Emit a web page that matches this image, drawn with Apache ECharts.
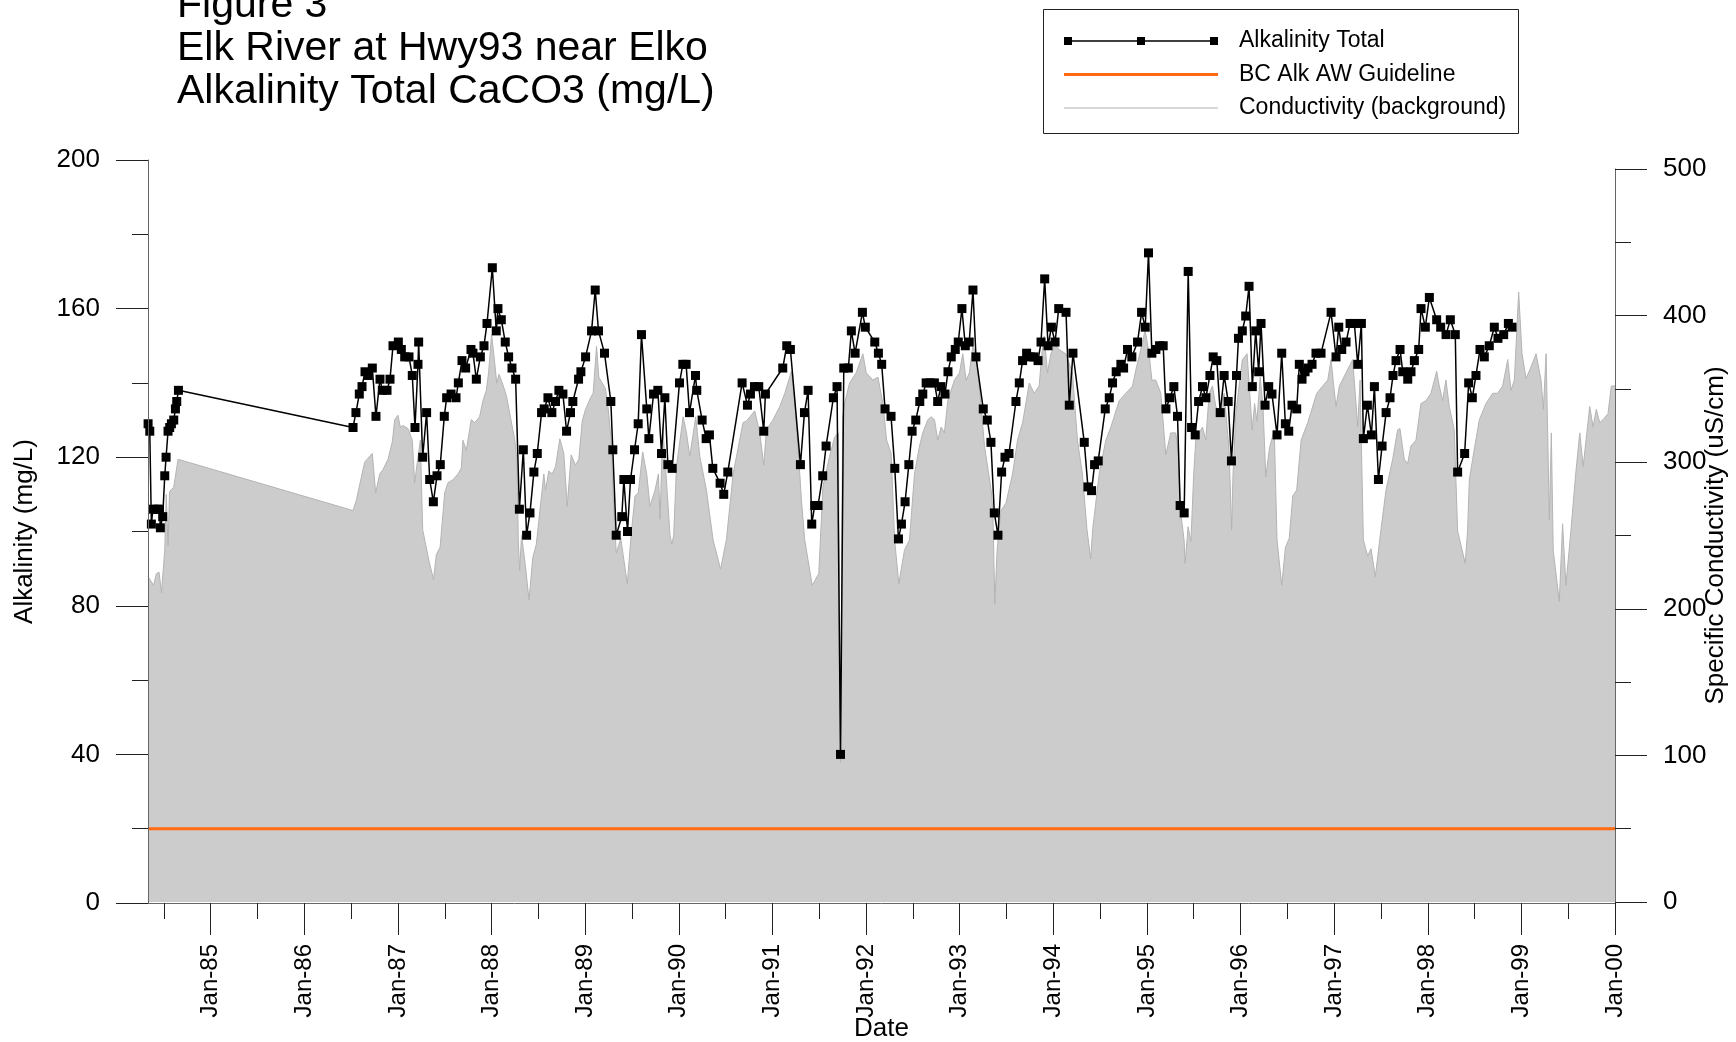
<!DOCTYPE html>
<html lang="en">
<head>
<meta charset="UTF-8">
<title>Figure 3 - Elk River at Hwy93 near Elko</title>
<script src="https://cdn.jsdelivr.net/npm/echarts@6/dist/echarts.min.js"></script>
<style>html,body{margin:0;padding:0;background:#fff;}</style>
</head>
<body>
<div id="main" style="width:1736px;height:1042px;"></div>
<script>
// alkalinity samples (decimal year, mg/L)
var alkYears = [
  1984.331,1984.349,1984.366,1984.383,1984.426,1984.452,1984.462,1984.487,1984.509,1984.523,
  1984.544,1984.562,1984.580,1984.605,1984.623,1984.637,1984.655,1986.520,1986.551,1986.587,
  1986.616,1986.648,1986.683,1986.726,1986.765,1986.808,1986.833,1986.883,1986.915,1986.947,
  1987.004,1987.036,1987.072,1987.118,1987.153,1987.182,1987.214,1987.221,1987.264,1987.306,
  1987.339,1987.378,1987.417,1987.452,1987.495,1987.520,1987.567,1987.620,1987.645,1987.684,
  1987.723,1987.780,1987.801,1987.837,1987.880,1987.919,1987.951,1988.008,1988.050,1988.068,
  1988.104,1988.146,1988.182,1988.218,1988.257,1988.297,1988.339,1988.374,1988.410,1988.452,
  1988.488,1988.534,1988.562,1988.602,1988.644,1988.683,1988.719,1988.762,1988.801,1988.843,
  1988.868,1988.929,1988.954,1989.004,1989.068,1989.107,1989.142,1989.206,1989.274,1989.295,
  1989.331,1989.391,1989.413,1989.452,1989.484,1989.527,1989.566,1989.601,1989.658,1989.680,
  1989.730,1989.776,1989.815,1989.851,1989.883,1989.929,1990.007,1990.043,1990.078,1990.114,
  1990.178,1990.192,1990.249,1990.292,1990.327,1990.363,1990.441,1990.480,1990.523,1990.676,
  1990.733,1990.765,1990.808,1990.854,1990.907,1990.925,1991.110,1991.153,1991.192,1991.299,
  1991.342,1991.381,1991.420,1991.452,1991.487,1991.537,1991.573,1991.651,1991.690,1991.727,
  1991.762,1991.811,1991.843,1991.883,1991.961,1991.992,1992.093,1992.132,1992.167,1992.203,
  1992.267,1992.307,1992.346,1992.378,1992.417,1992.457,1992.492,1992.531,1992.574,1992.606,
  1992.642,1992.683,1992.730,1992.765,1992.800,1992.843,1992.875,1992.910,1992.953,1992.985,
  1993.024,1993.060,1993.102,1993.142,1993.174,1993.252,1993.295,1993.334,1993.370,1993.409,
  1993.448,1993.484,1993.527,1993.601,1993.637,1993.672,1993.715,1993.751,1993.794,1993.837,
  1993.869,1993.908,1993.944,1993.980,1994.019,1994.058,1994.136,1994.171,1994.210,1994.331,
  1994.370,1994.409,1994.441,1994.480,1994.555,1994.598,1994.633,1994.672,1994.722,1994.751,
  1994.793,1994.839,1994.900,1994.943,1994.982,1995.017,1995.053,1995.096,1995.135,1995.174,
  1995.203,1995.246,1995.288,1995.327,1995.355,1995.398,1995.441,1995.477,1995.516,1995.552,
  1995.594,1995.630,1995.673,1995.708,1995.747,1995.783,1995.825,1995.868,1995.903,1995.957,
  1995.978,1996.019,1996.055,1996.091,1996.126,1996.162,1996.194,1996.219,1996.262,1996.301,
  1996.336,1996.390,1996.440,1996.479,1996.515,1996.550,1996.600,1996.628,1996.657,1996.689,
  1996.721,1996.764,1996.806,1996.860,1996.967,1997.020,1997.049,1997.081,1997.127,1997.170,
  1997.216,1997.252,1997.291,1997.312,1997.355,1997.398,1997.430,1997.473,1997.512,1997.555,
  1997.597,1997.629,1997.661,1997.704,1997.733,1997.786,1997.821,1997.857,1997.903,1997.928,
  1997.974,1998.017,1998.095,1998.138,1998.195,1998.241,1998.294,1998.319,1998.394,1998.437,
  1998.476,1998.515,1998.558,1998.604,1998.657,1998.711,1998.750,1998.811,1998.861,1998.900
];
var alkValues = [
  129,127,102,106,106,106,101,104,115,120,
  127,128,129,130,133,135,138,128,132,137,
  139,143,142,144,131,141,138,138,141,150,
  151,149,147,147,142,128,145,151,120,132,
  114,108,115,118,131,136,137,136,140,146,
  144,149,148,141,147,150,156,171,154,160,
  157,151,147,144,141,106,122,99,105,116,
  121,132,133,136,132,135,138,137,127,132,
  135,141,143,147,154,165,154,148,135,122,
  99,104,114,100,114,122,129,153,133,125,
  137,138,121,136,118,117,140,145,145,132,
  142,138,130,125,126,117,113,110,116,140,
  134,137,139,139,127,137,144,150,149,118,
  132,138,102,107,107,115,123,136,139,40,
  144,144,154,148,159,155,151,148,145,133,
  131,117,98,102,108,118,127,130,135,137,
  140,140,140,135,139,137,143,147,149,151,
  160,150,151,165,147,133,130,124,105,99,
  116,120,121,135,140,146,148,147,147,146,
  151,168,150,155,151,160,159,134,148,124,
  112,111,118,119,133,136,140,143,145,144,
  149,147,151,159,155,175,148,149,150,150,
  133,136,139,131,107,105,170,128,126,135,
  139,136,142,147,146,132,142,135,119,142,
  152,154,158,166,139,154,143,156,134,139,
  137,126,148,129,127,134,133,145,141,143,
  144,145,148,148,159,147,155,149,151,156,
  156,145,156,125,134,126,139,114,123,132,
  136,142,146,149,143,141,143,146,149,160,
  155,163,157,155,153,157,153,116,121,140,
  136,142,149,147,150,155,152,153,156,155
];

// specific conductivity background (decimal year, uS/cm)
var condYears = [
  1984.330,1984.390,1984.420,1984.448,1984.474,1984.509,1984.525,1984.544,1984.560,1984.605,
  1984.651,1986.520,1986.555,1986.644,1986.726,1986.762,1986.805,1986.840,1986.894,1986.940,
  1986.965,1987.000,1987.025,1987.054,1987.107,1987.153,1987.178,1987.207,1987.239,1987.264,
  1987.330,1987.380,1987.410,1987.450,1987.499,1987.534,1987.588,1987.641,1987.677,1987.694,
  1987.730,1987.783,1987.819,1987.872,1987.908,1987.944,1987.968,1988.000,1988.030,1988.055,
  1988.080,1988.120,1988.160,1988.200,1988.246,1988.271,1988.285,1988.300,1988.320,1988.360,
  1988.400,1988.440,1988.478,1988.558,1988.576,1988.612,1988.647,1988.683,1988.729,1988.772,
  1988.808,1988.850,1988.897,1988.932,1988.968,1989.003,1989.057,1989.085,1989.121,1989.146,
  1989.217,1989.243,1989.278,1989.296,1989.332,1989.380,1989.450,1989.490,1989.532,1989.567,
  1989.614,1989.657,1989.692,1989.746,1989.782,1989.800,1989.828,1989.863,1989.906,1989.926,
  1989.945,1989.975,1990.046,1990.082,1990.117,1990.181,1990.224,1990.295,1990.366,1990.446,
  1990.508,1990.580,1990.686,1990.722,1990.811,1990.865,1990.907,1990.936,1991.007,1991.078,
  1991.132,1991.203,1991.238,1991.292,1991.310,1991.345,1991.425,1991.495,1991.539,1991.610,
  1991.664,1991.705,1991.727,1991.750,1991.770,1991.824,1991.895,1991.966,1992.002,1992.073,
  1992.127,1992.180,1992.220,1992.268,1992.305,1992.350,1992.410,1992.464,1992.517,1992.571,
  1992.606,1992.660,1992.695,1992.731,1992.766,1992.802,1992.837,1992.873,1992.944,1992.998,
  1993.033,1993.069,1993.104,1993.140,1993.176,1993.229,1993.265,1993.336,1993.355,1993.375,
  1993.400,1993.441,1993.494,1993.565,1993.618,1993.672,1993.707,1993.743,1993.796,1993.849,
  1993.878,1993.903,1993.938,1993.974,1994.027,1994.056,1994.134,1994.205,1994.258,1994.311,
  1994.360,1994.400,1994.420,1994.437,1994.490,1994.561,1994.615,1994.704,1994.775,1994.846,
  1994.882,1994.935,1994.981,1995.024,1995.053,1995.095,1995.149,1995.202,1995.255,1995.308,
  1995.337,1995.362,1995.397,1995.408,1995.440,1995.470,1995.500,1995.522,1995.558,1995.594,
  1995.629,1995.665,1995.700,1995.736,1995.772,1995.825,1995.878,1995.905,1995.920,1995.949,
  1995.985,1996.020,1996.070,1996.125,1996.150,1996.175,1996.210,1996.240,1996.270,1996.310,
  1996.360,1996.390,1996.440,1996.480,1996.520,1996.558,1996.600,1996.647,1996.718,1996.814,
  1996.878,1996.932,1996.967,1996.992,1997.020,1997.056,1997.127,1997.198,1997.252,1997.277,
  1997.312,1997.358,1997.394,1997.440,1997.500,1997.554,1997.625,1997.678,1997.703,1997.749,
  1997.785,1997.820,1997.874,1997.927,1997.981,1998.034,1998.095,1998.123,1998.159,1998.194,
  1998.230,1998.283,1998.319,1998.400,1998.426,1998.444,1998.479,1998.551,1998.622,1998.693,
  1998.747,1998.800,1998.854,1998.889,1998.925,1998.971,1999.007,1999.050,1999.103,1999.157,
  1999.210,1999.235,1999.264,1999.299,1999.320,1999.340,1999.405,1999.440,1999.476,1999.530,
  1999.580,1999.624,1999.660,1999.730,1999.766,1999.800,1999.837,1999.872,1999.925,1999.961,
  2000.000
];
var condValues = [
  222,216,224,225,211,240,278,243,280,283,
  302,267,274,300,306,279,292,295,302,314,
  329,332,324,325,323,315,286,300,315,254,
  233,220,237,242,279,286,288,292,296,315,
  308,329,327,331,342,349,361,387,370,354,
  360,353,345,331,316,302,247,226,250,230,
  206,235,244,292,281,294,292,297,316,306,
  270,305,298,302,328,336,344,347,379,358,
  350,338,315,281,238,248,217,250,277,279,
  307,292,270,281,292,261,324,292,250,244,
  250,297,331,320,304,331,304,281,247,227,
  247,292,327,328,335,320,298,322,329,338,
  347,362,342,292,274,247,216,224,283,304,
  317,320,95,330,340,354,361,374,361,356,
  358,340,315,306,247,217,240,247,292,311,
  320,329,331,329,315,324,320,342,356,361,
  374,356,361,379,374,338,311,281,267,203,
  240,267,272,292,315,327,340,354,347,352,
  374,386,361,374,381,377,374,361,315,292,
  254,234,254,263,292,315,324,342,347,352,
  363,377,390,374,356,356,347,305,320,320,
  305,265,247,231,256,246,292,315,320,324,
  315,347,352,338,333,347,308,254,292,333,
  352,370,374,322,340,328,358,338,290,310,
  322,247,216,242,248,277,281,315,327,347,
  352,356,370,354,338,352,361,370,324,356,
  247,236,241,222,254,281,302,322,323,302,
  299,311,315,340,342,347,362,352,342,356,
  338,322,253,231,254,288,302,329,340,347,
  347,352,370,349,356,416,374,357,365,374,
  356,336,374,261,320,240,205,258,216,254,
  292,320,297,338,324,336,327,329,333,352,
  352
];

var guideline = 20;           // BC alkalinity AW guideline, mg/L
var xStart = 1984.33, xEnd = 2000;
var yearTicks = [1985,1986,1987,1988,1989,1990,1991,1992,1993,1994,1995,1996,1997,1998,1999,2000];
var halfYearTicks = [1984.5,1985.5,1986.5,1987.5,1988.5,1989.5,1990.5,1991.5,1992.5,1993.5,1994.5,1995.5,1996.5,1997.5,1998.5,1999.5];

var FONT = "'Liberation Sans', Arial, sans-serif";

function pairs(xs, ys) {
  var out = [];
  for (var i = 0; i < xs.length; i++) out.push([xs[i], ys[i]]);
  return out;
}

var myChart = echarts.init(document.getElementById('main'));

var axisLineStyle = { color: '#666', width: 1 };
var tickStyle = { color: '#222', width: 1 };

option = {
  animation: false,
  backgroundColor: '#fff',
  textStyle: { fontFamily: FONT, color: '#000' },
  title: {
    text: 'Figure 3\nElk River at Hwy93 near Elko\nAlkalinity Total CaCO3 (mg/L)',
    left: 177,
    top: -16,
    padding: 0,
    textStyle: { fontFamily: FONT, fontSize: 41, fontWeight: 'normal', lineHeight: 43, color: '#000' }
  },
  graphic: [{
    type: 'rect',
    shape: { x: 1043.5, y: 9.5, width: 475, height: 124 },
    style: { fill: '#fff', stroke: '#222', lineWidth: 1 },
    z: 0
  }],
  legend: {
    orient: 'vertical',
    left: 1064,
    top: 29,
    padding: 0,
    itemWidth: 170,
    itemHeight: 9,
    itemGap: 9.5,
    symbolKeepAspect: true,
    selectedMode: false,
    textStyle: { fontFamily: FONT, fontSize: 23, lineHeight: 24, color: '#000' },
    data: [
      { name: 'Alkalinity Total',
        icon: 'path://M0,0M170,9M0,3.75H154V5.25H0Z M0,0.5H8V8.5H0Z M73,0.5H81V8.5H73Z M146,0.5H154V8.5H146Z',
        itemStyle: { color: '#000', borderWidth: 0 } },
      { name: 'BC Alk AW Guideline',
        icon: 'path://M0,0M170,9M0,3H154V6H0Z',
        itemStyle: { color: '#ff6a13', borderWidth: 0 } },
      { name: 'Conductivity (background)',
        icon: 'path://M0,0M170,9M0,4H154V5H0Z',
        itemStyle: { color: '#b4b4b4', borderWidth: 0 } }
    ]
  },
  grid: [
    { left: 148, right: 121, top: 160, bottom: 139, outerBoundsMode: 'none', containLabel: false },
    { left: 148, right: 121, top: 169, bottom: 140, outerBoundsMode: 'none', containLabel: false }
  ],
  xAxis: [
    {
      type: 'value', gridIndex: 0, min: xStart, max: xEnd, z: 5,
      name: 'Date', nameLocation: 'middle', nameGap: 113, nameMoveOverlap: false,
      nameTextStyle: { fontFamily: FONT, fontSize: 26, color: '#000' },
      axisLine: { lineStyle: axisLineStyle },
      axisTick: { length: 32, lineStyle: tickStyle, customValues: yearTicks },
      axisLabel: {
        customValues: yearTicks, rotate: 90, margin: 41,
        fontFamily: FONT, fontSize: 24, color: '#000',
        formatter: function (v) { return 'Jan-' + String(Math.round(v) % 100).padStart(2, '0'); }
      },
      splitLine: { show: false }
    },
    {
      type: 'value', gridIndex: 0, min: xStart, max: xEnd, position: 'bottom', z: 5,
      axisLine: { show: false },
      axisTick: { length: 16, lineStyle: tickStyle, customValues: halfYearTicks },
      axisLabel: { show: false },
      splitLine: { show: false }
    },
    {
      type: 'value', gridIndex: 1, min: xStart, max: xEnd, show: false
    }
  ],
  yAxis: [
    {
      type: 'value', gridIndex: 0, min: 0, max: 200, interval: 40, position: 'left', z: 5,
      name: 'Alkalinity (mg/L)', nameLocation: 'middle', nameRotate: 90, nameGap: 110, nameMoveOverlap: false,
      nameTextStyle: { fontFamily: FONT, fontSize: 26, color: '#000' },
      axisLine: { show: true, lineStyle: axisLineStyle },
      axisTick: { show: true, length: 32, lineStyle: tickStyle },
      minorTick: { show: true, splitNumber: 2, length: 16, lineStyle: tickStyle },
      axisLabel: { margin: 48, fontFamily: FONT, fontSize: 26, color: '#000' },
      splitLine: { show: false }
    },
    {
      type: 'value', gridIndex: 1, min: 0, max: 500, interval: 100, position: 'right', z: 5,
      name: 'Specific Conductivity (uS/cm)', nameLocation: 'middle', nameRotate: 90, nameGap: 88, nameMoveOverlap: false,
      nameTextStyle: { fontFamily: FONT, fontSize: 26, color: '#000' },
      axisLine: { show: true, lineStyle: axisLineStyle },
      axisTick: { show: true, length: 32, lineStyle: tickStyle },
      minorTick: { show: true, splitNumber: 2, length: 16, lineStyle: tickStyle },
      axisLabel: { margin: 48, fontFamily: FONT, fontSize: 26, color: '#000' },
      splitLine: { show: false }
    }
  ],
  series: [
    {
      name: 'Conductivity (background)',
      type: 'line',
      xAxisIndex: 2, yAxisIndex: 1,
      data: pairs(condYears, condValues),
      symbol: 'none',
      lineStyle: { color: '#b4b4b4', width: 1 },
      itemStyle: { color: '#b4b4b4' },
      areaStyle: { color: '#cccccc', opacity: 1 },
      z: 1,
      silent: true
    },
    {
      name: 'BC Alk AW Guideline',
      type: 'line',
      xAxisIndex: 0, yAxisIndex: 0,
      data: [[xStart, guideline], [xEnd, guideline]],
      symbol: 'none',
      lineStyle: { color: '#ff6a13', width: 3 },
      itemStyle: { color: '#ff6a13' },
      z: 2,
      silent: true
    },
    {
      name: 'Alkalinity Total',
      type: 'line',
      xAxisIndex: 0, yAxisIndex: 0,
      data: pairs(alkYears, alkValues),
      symbol: 'rect',
      symbolSize: 9,
      showAllSymbol: true,
      lineStyle: { color: '#000', width: 1.5 },
      itemStyle: { color: '#000' },
      z: 3,
      silent: true
    }
  ]
};

myChart.setOption(option);
</script>
</body>
</html>
